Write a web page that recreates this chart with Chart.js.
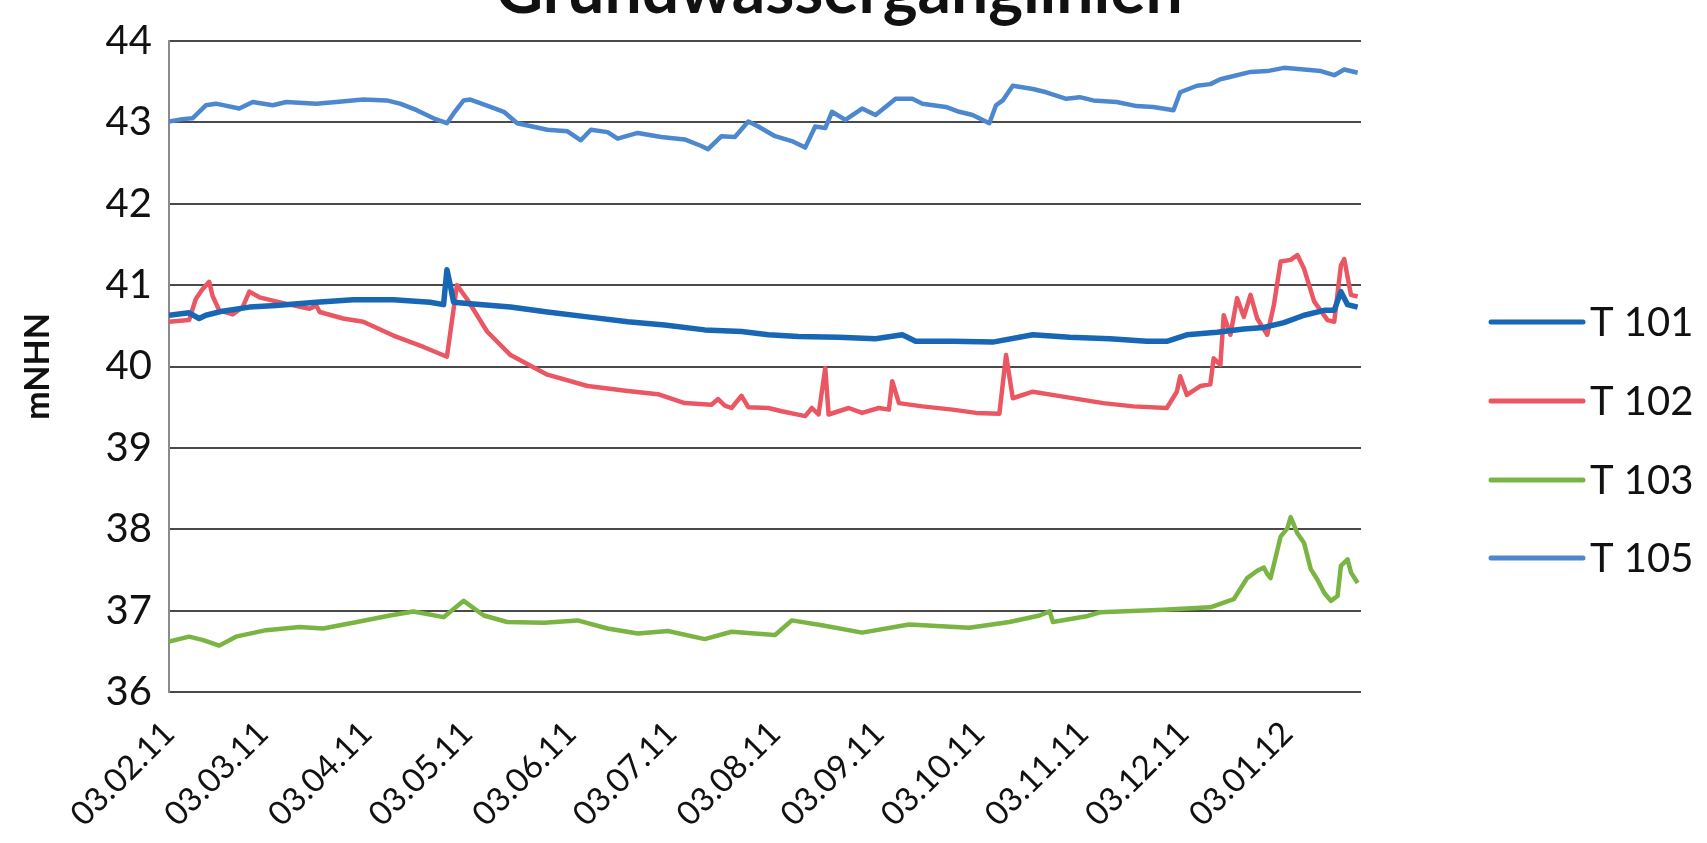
<!DOCTYPE html>
<html>
<head>
<meta charset="utf-8">
<script src="https://cdn.jsdelivr.net/npm/chart.js@4/dist/chart.umd.min.js"></script>
<style>
  html, body { margin: 0; padding: 0; background: #ffffff; overflow: hidden; }
  #wrap { position: relative; width: 1707px; height: 843px; }
</style>
</head>
<body>
<div id="wrap"><canvas id="chart" width="1707" height="843"></canvas></div>
<script>
// Time axis: days counted from 03.02.2011
const tickDays   = [0, 28, 59, 89, 120, 150, 181, 212, 242, 273, 303, 334];
const tickLabels = ['03.02.11', '03.03.11', '03.04.11', '03.05.11', '03.06.11', '03.07.11',
                    '03.08.11', '03.09.11', '03.10.11', '03.11.11', '03.12.11', '03.01.12'];

const seriesNames = ['T 101', 'T 102', 'T 103', 'T 105'];

// Groundwater levels in mNHN
const t101Days = [0, 6, 9, 11, 16, 24, 32, 44, 55, 67, 78, 82, 83, 84, 85, 90, 102, 113, 125, 137,
                  148, 160, 171, 179, 188, 200, 211, 219, 223, 234, 246, 258, 269, 281, 292, 298,
                  304, 313, 321, 327, 333, 339, 345, 348, 350, 352, 355];
const t101 = [40.63, 40.66, 40.59, 40.63, 40.68, 40.73, 40.75, 40.79, 40.82, 40.82, 40.79, 40.76,
              41.19, 41.0, 40.79, 40.77, 40.73, 40.67, 40.61, 40.55, 40.51, 40.45, 40.43, 40.39,
              40.37, 40.36, 40.34, 40.39, 40.31, 40.31, 40.30, 40.39, 40.36, 40.34, 40.31, 40.31,
              40.39, 40.42, 40.46, 40.48, 40.54, 40.63, 40.69, 40.69, 40.92, 40.76, 40.73];

const t102Days = [0, 6, 8, 10, 12, 13, 15, 19, 22, 24, 27, 36, 42, 44, 45, 52, 58, 67, 76, 83,
                  86, 89, 95, 102, 113, 125, 137, 146, 154, 162, 164, 166, 168, 171, 173, 179,
                  183, 190, 192, 194, 196, 197, 203, 207, 212, 215, 216, 218, 225, 234, 241, 248,
                  250, 252, 258, 267, 279, 288, 298, 301, 302, 304, 308, 311, 312, 314, 315, 317,
                  319, 321, 323, 325, 328, 330, 332, 335, 337, 339, 342, 346, 348, 350, 351, 353, 355];
const t102 = [40.55, 40.57, 40.83, 40.95, 41.04, 40.87, 40.69, 40.64, 40.73, 40.92, 40.85, 40.76,
              40.71, 40.75, 40.67, 40.59, 40.55, 40.38, 40.24, 40.12, 41.0, 40.83, 40.43, 40.14,
              39.90, 39.76, 39.70, 39.66, 39.55, 39.53, 39.60, 39.52, 39.49, 39.64, 39.50, 39.49,
              39.45, 39.39, 39.49, 39.41, 39.98, 39.41, 39.49, 39.43, 39.49, 39.47, 39.82, 39.55,
              39.51, 39.47, 39.43, 39.42, 40.14, 39.61, 39.69, 39.63, 39.55, 39.51, 39.49, 39.69,
              39.88, 39.65, 39.76, 39.78, 40.10, 40.02, 40.63, 40.39, 40.84, 40.61, 40.88, 40.59,
              40.39, 40.76, 41.29, 41.31, 41.37, 41.20, 40.80, 40.57, 40.55, 41.24, 41.32, 40.88, 40.86];

const t103Days = [0, 6, 10, 15, 20, 29, 39, 46, 55, 66, 73, 82, 88, 94, 101, 112, 122, 131, 140,
                  149, 160, 168, 181, 186, 195, 207, 221, 239, 251, 260, 263, 264, 274, 278, 297,
                  311, 318, 322, 325, 327, 328, 329, 332, 334, 335, 337, 339, 341, 343, 345, 347,
                  349, 350, 352, 353, 355];
const t103 = [36.62, 36.68, 36.64, 36.57, 36.68, 36.76, 36.80, 36.78, 36.85, 36.94, 36.99, 36.92,
              37.12, 36.94, 36.86, 36.85, 36.88, 36.78, 36.72, 36.75, 36.65, 36.74, 36.70, 36.88,
              36.82, 36.73, 36.83, 36.79, 36.86, 36.94, 36.99, 36.86, 36.93, 36.98, 37.01, 37.04,
              37.14, 37.40, 37.49, 37.53, 37.45, 37.40, 37.91, 38.01, 38.15, 37.95, 37.83, 37.51,
              37.38, 37.22, 37.12, 37.18, 37.55, 37.63, 37.47, 37.34];

const t105Days = [0, 4, 7, 11, 14, 21, 25, 31, 35, 44, 50, 58, 65, 69, 74, 79, 83, 85, 88, 90,
                  96, 100, 104, 113, 119, 123, 126, 131, 134, 140, 147, 154, 159, 161, 165, 169,
                  173, 176, 181, 186, 190, 193, 196, 198, 202, 207, 211, 214, 217, 222, 225, 232,
                  236, 240, 245, 247, 249, 252, 258, 262, 268, 272, 276, 283, 289, 294, 300, 302,
                  307, 311, 314, 318, 323, 328, 333, 339, 344, 348, 351, 355];
const t105 = [43.01, 43.04, 43.05, 43.21, 43.23, 43.17, 43.25, 43.21, 43.25, 43.23, 43.25, 43.28,
              43.27, 43.23, 43.15, 43.05, 42.99, 43.11, 43.27, 43.28, 43.19, 43.13, 42.99, 42.91,
              42.89, 42.78, 42.91, 42.88, 42.80, 42.87, 42.82, 42.79, 42.71, 42.67, 42.83, 42.82,
              43.01, 42.95, 42.83, 42.77, 42.69, 42.95, 42.93, 43.13, 43.03, 43.17, 43.09, 43.19,
              43.29, 43.29, 43.23, 43.19, 43.13, 43.09, 42.99, 43.21, 43.27, 43.45, 43.41, 43.37,
              43.29, 43.31, 43.27, 43.25, 43.20, 43.19, 43.15, 43.37, 43.45, 43.47, 43.53, 43.57,
              43.62, 43.63, 43.67, 43.65, 43.63, 43.58, 43.65, 43.61];

const chartTitle = 'Grundwasserganglinien';
const yAxisTitle = 'mNHN';

const FONT = 'Lato, "Open Sans", sans-serif';

function pairs(days, vals) {
  return days.map((d, i) => ({ x: d, y: vals[i] }));
}

// Title (runs off the top edge) and the legend on the right
const decorations = {
  id: 'decorations',
  afterDraw(chart) {
    const ctx = chart.ctx;
    ctx.save();
    ctx.fillStyle = '#111111';
    ctx.font = 'bold 66px ' + FONT;
    ctx.textAlign = 'center';
    ctx.textBaseline = 'alphabetic';
    ctx.fillText(chartTitle, 839, 13);

    const rows = [322, 401, 480, 558];
    chart.data.datasets.forEach((ds, i) => {
      const y = rows[i];
      ctx.strokeStyle = ds.borderColor;
      ctx.lineWidth = 5;
      ctx.lineCap = 'round';
      ctx.beginPath();
      ctx.moveTo(1491, y);
      ctx.lineTo(1583, y);
      ctx.stroke();
      ctx.fillStyle = '#111111';
      ctx.font = '40px ' + FONT;
      ctx.textAlign = 'left';
      ctx.textBaseline = 'middle';
      ctx.fillText(ds.label, 1590, y + 1);
    });
    ctx.restore();
  }
};

const colors = ['#1767b4', '#ea5662', '#7ab443', '#4d88cf'];
const widths = [5.5, 4.5, 4.5, 4.5];

new Chart(document.getElementById('chart'), {
  type: 'line',
  data: {
    datasets: [
      { label: seriesNames[0], data: pairs(t101Days, t101) },
      { label: seriesNames[1], data: pairs(t102Days, t102) },
      { label: seriesNames[2], data: pairs(t103Days, t103) },
      { label: seriesNames[3], data: pairs(t105Days, t105) }
    ].map((ds, i) => Object.assign(ds, {
      borderColor: colors[i],
      backgroundColor: colors[i],
      borderWidth: widths[i],
      pointRadius: 0,
      tension: 0,
      fill: false,
      borderJoinStyle: 'round'
    }))
  },
  options: {
    responsive: false,
    animation: false,
    events: [],
    layout: { padding: { top: 28, right: 346, bottom: 0, left: 0 } },
    plugins: {
      legend: { display: false },
      title: { display: false },
      tooltip: { enabled: false }
    },
    scales: {
      x: {
        type: 'linear',
        min: 0,
        max: 356,
        afterBuildTicks(scale) {
          scale.ticks = tickDays.map(v => ({ value: v }));
        },
        afterFit(scale) { scale.height = 151; },
        grid: { display: false, drawTicks: false },
        border: { display: false },
        ticks: {
          autoSkip: false,
          maxRotation: 45,
          minRotation: 45,
          padding: 22,
          color: '#111111',
          font: { family: FONT, size: 33 },
          callback(value) {
            const k = tickDays.indexOf(value);
            return k >= 0 ? tickLabels[k] : '';
          }
        }
      },
      y: {
        min: 36,
        max: 44,
        afterFit(scale) { scale.width = 169; },
        grid: { color: '#4a4a4a', lineWidth: 2, drawTicks: false },
        border: { display: true, color: '#8a8a8a', width: 2 },
        ticks: {
          stepSize: 1,
          padding: 17,
          color: '#111111',
          font: { family: FONT, size: 40 }
        },
        title: {
          display: true,
          text: yAxisTitle,
          color: '#111111',
          font: { family: FONT, size: 34, weight: 'bold' },
          padding: { top: 18, bottom: 0 }
        }
      }
    }
  },
  plugins: [decorations]
});
</script>
</body>
</html>
